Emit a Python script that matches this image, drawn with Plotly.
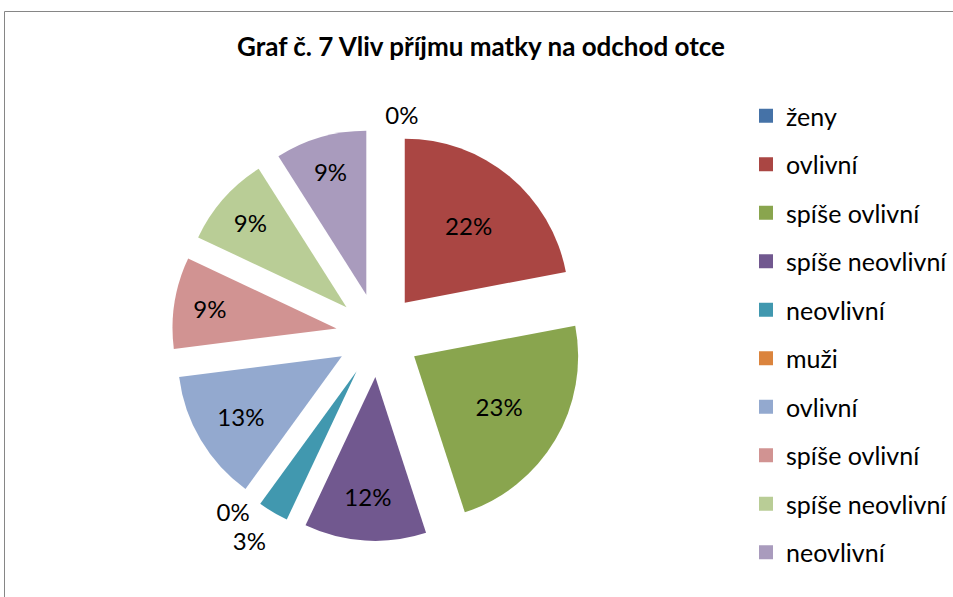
import plotly.graph_objects as go

# data
labels = ["ženy", "ovlivní", "spíše ovlivní", "spíše neovlivní", "neovlivní",
          "muži", "ovlivní", "spíše ovlivní", "spíše neovlivní", "neovlivní"]
values = [0, 22, 23, 12, 3, 0, 13, 9, 9, 9]
colors = ["#4572A7", "#AA4643", "#89A54E", "#71588F", "#4198AF",
          "#DB843D", "#93A9CF", "#D19392", "#B9CD96", "#A99BBD"]
title_text = "Graf č. 7 Vliv příjmu matky na odchod otce"

W, H = 953, 597
FONT = "Lato"

# unique ids for the pie (duplicate labels would be merged by plotly)
pie_labels = [f"{i}:{l}" for i, l in enumerate(labels)]
textpos = ["outside" if v <= 3 else "inside" for v in values]

cx, cy, r, pull = 378, 335, 164, 0.256
half = r * (1 + pull)

fig = go.Figure()
fig.add_trace(go.Pie(
    labels=pie_labels, values=values, sort=False, direction="clockwise", rotation=0,
    marker=dict(colors=colors, line=dict(width=0)),
    pull=[pull] * len(values),
    texttemplate="%{percent:.0%}", textposition=textpos,
    insidetextorientation="horizontal",
    textfont=dict(family=FONT, size=24, color="black"),
    showlegend=False, hoverinfo="skip",
    domain=dict(x=[(cx - half) / W, (cx + half) / W],
                y=[1 - (cy + half) / H, 1 - (cy - half) / H]),
))

for i, (lab, col) in enumerate(zip(labels, colors)):
    fig.add_trace(go.Scatter(
        x=[None], y=[None], mode="markers", name=lab,
        marker=dict(symbol="square", size=14, color=col),
        legendgroup=f"g{i}", showlegend=True, hoverinfo="skip",
    ))

fig.add_shape(type="rect", xref="paper", yref="paper",
              x0=4.5 / W, x1=1.02, y0=-0.02, y1=1 - 11.5 / H,
              line=dict(color="#868686", width=1), fillcolor="rgba(0,0,0,0)")

fig.update_layout(
    width=W, height=H,
    margin=dict(l=0, r=0, t=0, b=0, autoexpand=False),
    paper_bgcolor="white", plot_bgcolor="white",
    title=dict(text=title_text, x=481 / W, xanchor="center",
               y=1 - 47 / H, yanchor="middle", yref="container",
               font=dict(family=FONT, size=26, color="black", weight="bold")),
    xaxis=dict(visible=False), yaxis=dict(visible=False),
    legend=dict(x=746 / W, xanchor="left", y=1 - 93 / H, yanchor="top",
                font=dict(family=FONT, size=25, color="black"),
                tracegroupgap=13, traceorder="grouped",
                bgcolor="rgba(0,0,0,0)"),
)

post = """
document.body.style.margin = '0';
var st = document.createElement('style');
st.textContent = 'path.textline{stroke-opacity:0 !important;}';
document.head.appendChild(st);
"""
fig.write_html("out.html", post_script=post, config={"displayModeBar": False})
